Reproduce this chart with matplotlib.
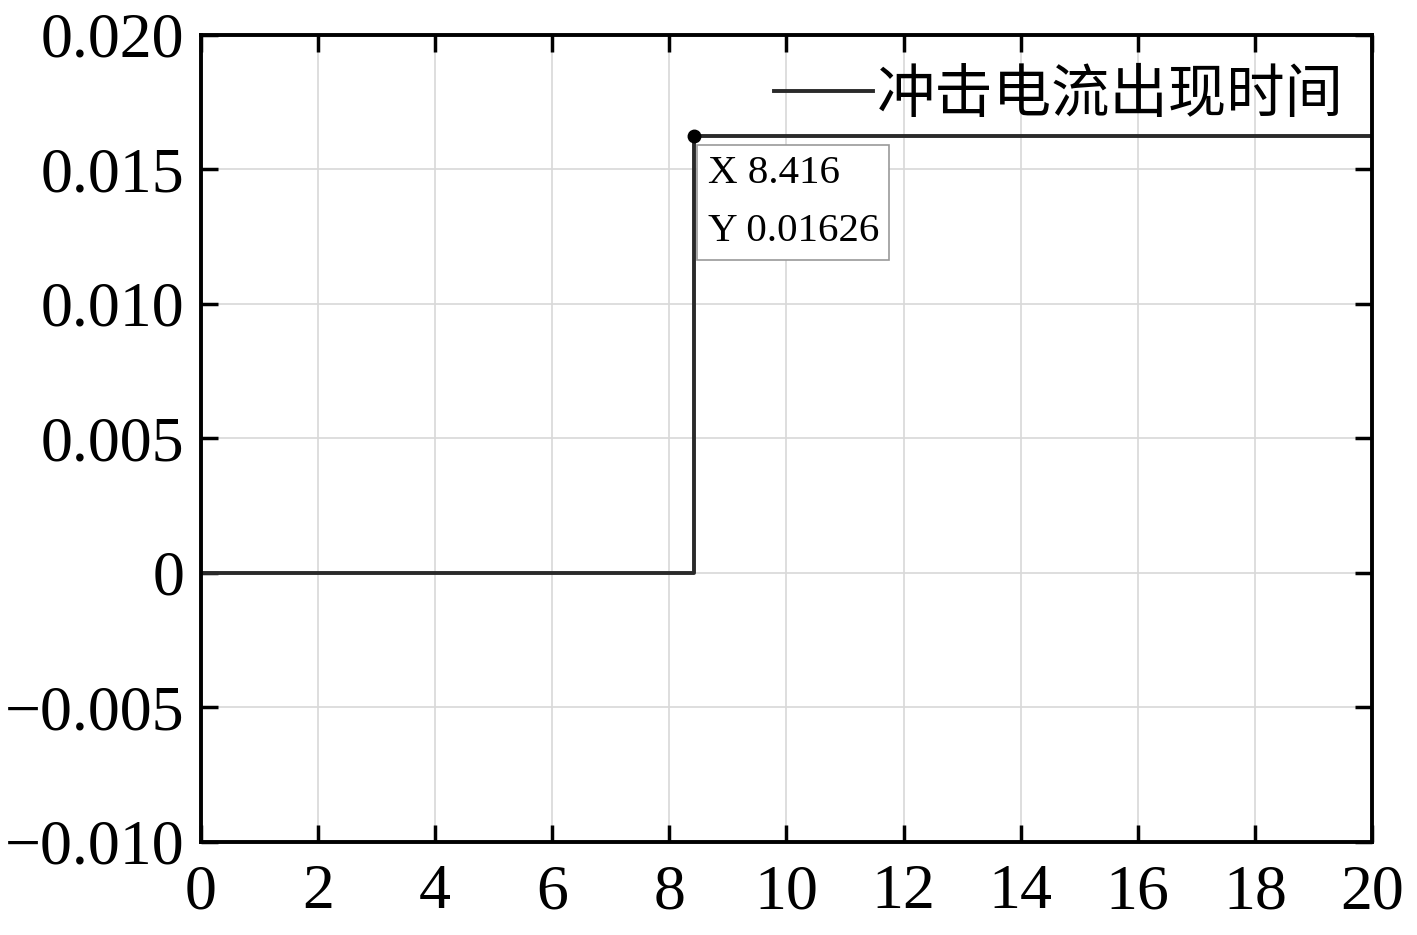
import numpy as np
import matplotlib
matplotlib.use('Agg')
import matplotlib.pyplot as plt

plt.rcParams['font.family'] = ['Liberation Serif', 'Noto Sans CJK SC', 'DejaVu Sans']
plt.rcParams['axes.unicode_minus'] = True

# step signal: 0 until the surge current appears, then constant
t = [0.0, 8.416, 8.416, 20.0]
i_val = [0.0, 0.0, 0.01626, 0.01626]
tip_x = 8.416
tip_y = 0.01626
legend_label = '冲击电流出现时间'

xticks = np.arange(0, 21, 2)
yticks = [-0.010, -0.005, 0.0, 0.005, 0.010, 0.015, 0.020]
ylabels = ['\u22120.010', '\u22120.005', '0', '0.005', '0.010', '0.015', '0.020']

fig = plt.figure(figsize=(14.17, 9.35), dpi=100)
ax = fig.add_axes([0.1418, 0.0995, 0.8264, 0.8631])

ax.plot(t, i_val, color='#2a2a2a', lw=2.8, label=legend_label)
ax.plot(tip_x, tip_y, 'o', color='black', ms=9, zorder=5)

ax.annotate('X 8.416\nY 0.01626', xy=(tip_x, tip_y), xytext=(10, -14),
            textcoords='offset points', ha='left', va='top',
            fontsize=29.5, linespacing=1.75,
            bbox=dict(boxstyle='square,pad=0.25', fc='white', ec='#999999', lw=1.2))

ax.set_xlim(0, 20)
ax.set_ylim(-0.010, 0.020)
ax.set_xticks(xticks)
ax.set_xticklabels([str(v) for v in xticks])
ax.set_yticks(yticks)
ax.set_yticklabels(ylabels)
ax.tick_params(direction='in', length=12, width=2.5, labelsize=46,
               top=True, right=True)
ax.tick_params(axis='x', pad=16)
ax.tick_params(axis='y', pad=12)
ax.grid(color='#d8d8d8', lw=1.2)
ax.set_axisbelow(True)
for s in ax.spines.values():
    s.set_linewidth(2.8)

leg = ax.legend(loc='upper right', bbox_to_anchor=(1.008, 1.01), frameon=False,
                handlelength=1.7, handletextpad=0.05,
                borderaxespad=0.25, prop={'family': ['Noto Sans CJK SC'], 'size': 42})

fig.savefig('out.png', dpi=100)
